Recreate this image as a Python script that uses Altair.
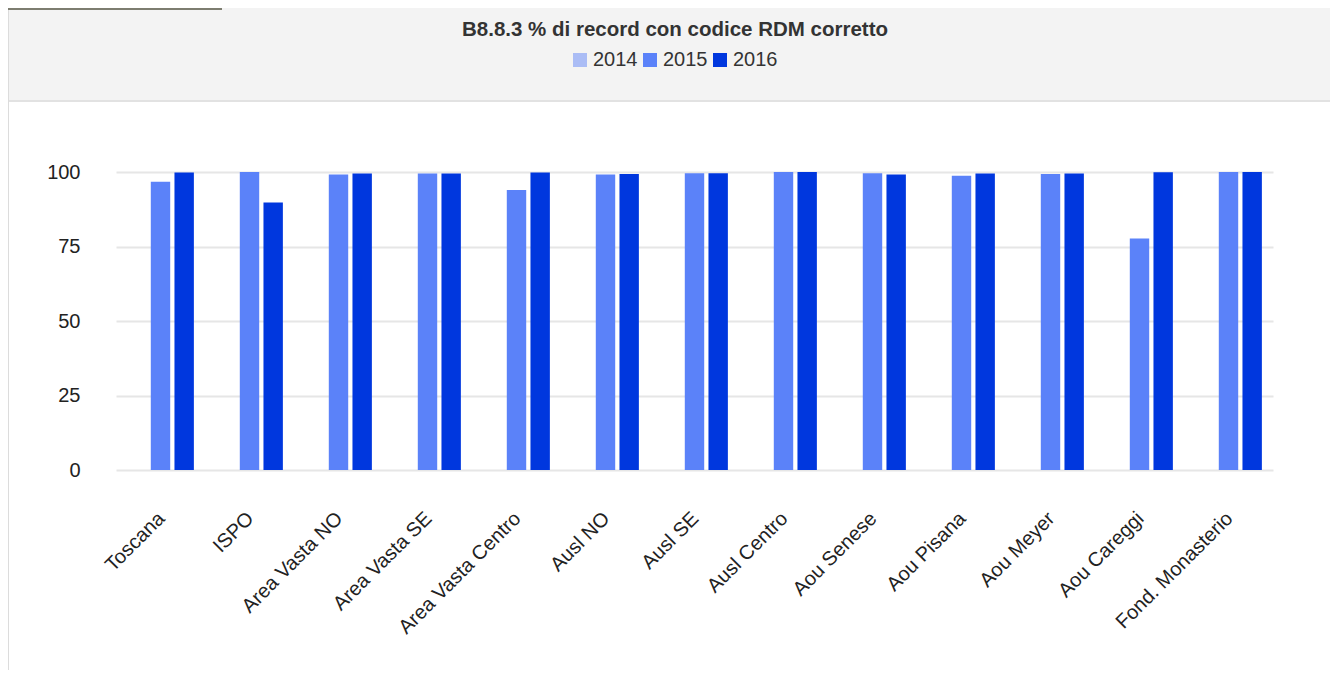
import altair as alt
import pandas as pd

categories = ["Toscana", "ISPO", "Area Vasta NO", "Area Vasta SE", "Area Vasta Centro",
              "Ausl NO", "Ausl SE", "Ausl Centro", "Aou Senese", "Aou Pisana",
              "Aou Meyer", "Aou Careggi", "Fond. Monasterio"]
years = ["2014", "2015", "2016"]
values_2015 = [96.7, 100.0, 99.2, 99.5, 94.0, 99.2, 99.6, 100.0, 99.6, 98.7, 99.3, 77.7, 100.0]
values_2016 = [99.8, 89.8, 99.5, 99.5, 99.8, 99.3, 99.6, 100.0, 99.2, 99.5, 99.5, 99.9, 100.0]
colors = ["#aabcf5", "#5b82f9", "#0037de"]
y_ticks = [0, 25, 50, 75, 100]
title_text = "B8.8.3 % di record con codice RDM corretto"

FONT = "Liberation Sans"

rows = []
for c, v in zip(categories, values_2015):
    rows.append({"cat": c, "year": "2015", "value": v})
for c, v in zip(categories, values_2016):
    rows.append({"cat": c, "year": "2016", "value": v})
df = pd.DataFrame(rows)

W, H = 1157, 298
PL, PT, PR, PB = 108, 164, 57, 200

one = alt.Data(values=[{"k": 1}])
band = alt.Chart(one).mark_rect(color="#f3f3f3").encode(
    x=alt.value(-PL), x2=alt.value(W + PR), y=alt.value(-PT), y2=alt.value(-72)
)
border = alt.Chart(one).mark_rule(color="#e2e2e2", strokeWidth=2).encode(
    x=alt.value(-PL), x2=alt.value(W + PR), y=alt.value(-71)
)
left_edge = alt.Chart(one).mark_rule(color="#dcdcdc", strokeWidth=1).encode(
    x=alt.value(-PL + 0.5), y=alt.value(-PT), y2=alt.value(H + PB)
)
top_tab = alt.Chart(one).mark_rule(color="#7d7d70", strokeWidth=2).encode(
    x=alt.value(-PL), x2=alt.value(106), y=alt.value(-PT + 1)
)

bars = alt.Chart(df).mark_bar().encode(
    x=alt.X("cat:N", sort=categories,
            scale=alt.Scale(domain=categories, paddingInner=0.25, paddingOuter=0.125),
            axis=alt.Axis(title=None, labelAngle=-45, labelAlign="right", labelBaseline="top",
                          labelFontSize=20, labelFont=FONT, labelColor="#222",
                          domain=False, ticks=False, tickSize=0, labelPadding=38,
                          labelOffset=-6,
                          grid=False, labelOverlap=False, labelLimit=0)),
    xOffset=alt.XOffset("year:N", sort=years,
                        scale=alt.Scale(domain=years, paddingInner=0.18, paddingOuter=0)),
    y=alt.Y("value:Q", scale=alt.Scale(domain=[0, 100], nice=False),
            axis=alt.Axis(title=None, values=y_ticks, labelFontSize=20, labelFont=FONT,
                          labelColor="#222", domain=False, ticks=False, tickSize=0,
                          labelPadding=36, gridColor="#e6e6e6", gridWidth=2)),
    color=alt.Color("year:N", scale=alt.Scale(domain=years, range=colors),
                    legend=alt.Legend(orient="none", legendX=454, legendY=-122,
                                      direction="horizontal", title=None,
                                      symbolType="square", symbolSize=196,
                                      symbolStrokeWidth=0, labelFontSize=20,
                                      labelFont=FONT, labelColor="#333",
                                      columnPadding=2, labelOffset=3)),
)

chart = alt.layer(band, border, left_edge, top_tab, bars).properties(
    width=W, height=H,
    padding={"left": PL, "top": PT, "right": PR, "bottom": PB},
    autosize=alt.AutoSizeParams(type="none"),
    title=alt.TitleParams(text=title_text, fontSize=20.5, fontWeight="bold", font=FONT,
                          color="#333", anchor="middle", dx=-19.5, offset=-33),
    background="white",
).configure_view(stroke=None)

chart.save("out.html", embed_options={"renderer": "svg", "actions": False})
